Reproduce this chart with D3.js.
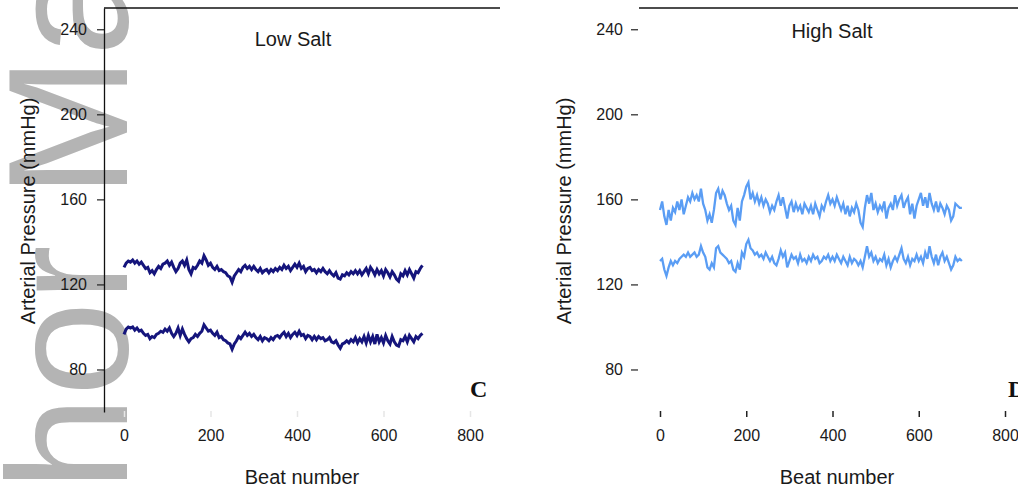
<!DOCTYPE html>
<html>
<head>
<meta charset="utf-8">
<script src="https://cdn.jsdelivr.net/npm/d3@7"></script>
<style>
  body { margin: 0; background: #fff; }
  svg { display: block; font-family: "Liberation Sans", Arial, sans-serif; }
</style>
</head>
<body>
<svg id="chart" width="1018" height="491"></svg>
<script>
// beat step between stored samples
const beatStep = 5;

// Low salt panel (C): systolic and diastolic traces, one value every 5 beats (0..690)
const lowSys = [
  128, 130, 131, 130.5, 131.5, 130, 131, 129.5, 130.5, 129,
  127.5, 128, 125.5, 126.5, 125, 127, 128.5, 127.5, 129.5, 130,
  131, 129, 130.5, 128, 126, 127.5, 130, 131, 129, 131.5,
  127, 125, 128, 127.5, 129, 131, 130, 133.5, 131.5, 129,
  130, 128, 127, 128.5, 126.5, 127, 126, 125.5, 124, 123.5,
  121, 124, 125.5, 127, 126, 128, 129, 127.5, 128.5, 127,
  128.5, 127, 126, 127.5, 125.5, 126.5, 127, 125.5, 127, 126,
  127.5, 126.5, 128, 127, 129, 127.5, 128.5, 126.5, 128, 129.5,
  128, 130, 127.5, 128.5, 126, 127.5, 128, 126.5, 127, 125.5,
  127, 126, 127.5, 126, 125, 126.5, 125, 124, 125.5, 123,
  122.5, 124.5, 124, 125.5, 124.5, 126, 125, 126.5, 125, 126.5,
  124.5, 126, 127.5, 125, 128, 126.5, 124.5, 127, 125, 126.5,
  124, 127, 125.5, 123.5, 126, 124.5, 122.5, 121.5, 125, 124,
  126.5, 124.5, 127, 125, 123, 126, 125.5, 127.5, 129
];
const lowDia = [
  96.5, 99, 100, 99.5, 100, 98.5, 99.5, 98, 98.5, 97,
  96, 96.5, 94.5, 95.5, 95, 96.5, 97, 98, 97.5, 99,
  98, 99.5, 97, 95.5, 97, 99.5, 96, 99, 96.5, 94.5,
  93, 94.5, 95, 96.5, 95.5, 97, 98, 101, 99.5, 98,
  98.5, 97, 96, 97.5, 95, 95.5, 94, 93.5, 92.5, 92,
  89.5, 92, 93.5, 95.5, 94.5, 96, 97.5, 96, 97, 95.5,
  96.5, 95, 94, 95.5, 93.5, 95, 94.5, 93.5, 95, 94,
  95.5, 96, 95, 96.5, 97.5, 95.5, 97, 95, 96.5, 97.5,
  96, 98, 96, 96.5, 94.5, 96, 95.5, 94, 95.5, 94,
  95.5, 94.5, 95, 93.5, 94, 95, 93, 92.5, 93.5, 91.5,
  90, 92, 92.5, 93.5, 92.5, 94, 93, 95, 92.5, 94.5,
  93, 95.5, 92.5, 96, 93, 95.5, 92, 96.5, 93, 95,
  92.5, 96, 93.5, 92, 95.5, 93, 91.5, 91, 94, 93.5,
  95.5, 93, 96, 94.5, 93, 95.5, 94.5, 96, 97
];

// High salt panel (D): one value every 5 beats (0..700)
const highSys = [
  155, 159, 152, 148, 155, 150, 156, 154, 159, 155,
  160, 153, 157, 161, 159, 163, 160, 162, 159, 165,
  158, 155, 150, 153, 149, 155, 163, 165, 160, 164,
  162, 158, 155, 157, 150, 148, 156, 150, 159, 162,
  166, 168, 160, 163, 159, 162, 158, 161, 157, 160,
  158, 154, 157, 155, 159, 162, 157, 161, 156, 151,
  157, 159, 154, 158, 155, 157, 153, 158, 156, 154,
  157, 153, 158, 155, 152, 157, 155, 159, 162, 158,
  160, 157, 161, 158, 155, 158, 153, 157, 152, 156,
  154, 158, 155, 149, 147, 156, 162, 158, 163, 155,
  158, 154, 157, 155, 159, 151, 156, 158, 155, 162,
  157, 160, 162, 156, 159, 161, 153, 158, 151, 157,
  160, 163, 157, 161, 156, 163, 158, 155, 159, 154,
  158, 156, 153, 157, 155, 150, 152, 158, 157, 156,
  156
];
const highDia = [
  131, 132, 127, 124, 128, 131, 129, 131, 130, 132,
  133, 134, 133, 135, 133, 134, 135, 133, 134, 138,
  135, 133, 128, 127, 130, 128, 137, 138, 135, 134,
  133, 132, 130, 131, 127, 126, 130, 127, 135, 133,
  139, 141, 137, 136, 134, 135, 133, 134, 132, 135,
  133, 131, 133, 130, 129, 132, 136, 133, 135, 128,
  131, 134, 132, 133, 130, 134, 131, 132, 130, 133,
  131, 134, 132, 133, 130, 131, 133, 132, 134, 131,
  133, 131, 134, 132, 130, 133, 131, 129, 133, 130,
  132, 131, 129, 131, 128, 133, 138, 133, 135, 131,
  133, 130, 132, 131, 134, 129, 132, 128, 131, 133,
  131, 134, 137, 132, 130, 133, 129, 132, 131, 134,
  131, 133, 130, 135, 132, 138, 133, 130, 134, 129,
  133, 135, 131, 133, 130, 127, 129, 133, 131, 132,
  131
];

const yTicks = [80, 120, 160, 200, 240];
const xTicks = [0, 200, 400, 600, 800];

const panels = [
  { title: "Low Salt", tag: "C", series: [lowSys, lowDia], color: "#15157c", width: 3,
    x0: 124, x1: 470, axisX: 104, axisLine: true, topLine: [104, 500],
    titleY: 46, titleX: 293, labelX: 35, xLabelX: 302, tagX: 470, xTickColor: "#e6e6e6" },
  { title: "High Salt", tag: "D", series: [highSys, highDia], color: "#5a9df4", width: 2.3,
    x0: 660, x1: 1005, axisX: 638, axisLine: false, topLine: [639, 1018],
    titleY: 38, titleX: 832, labelX: 571, xLabelX: 837, tagX: 1008, xTickColor: "#222" }
];

const svg = d3.select("#chart");

// watermark behind everything
svg.append("text")
  .attr("transform", "translate(127,746) rotate(-90)")
  .attr("font-size", 170)
  .attr("fill", "#b4b4b4")
  .text("Author Manuscript");

const y = d3.scaleLinear().domain([60, 250]).range([412, 8]);

panels.forEach(p => {
  const g = svg.append("g");
  const x = d3.scaleLinear().domain([0, 800]).range([p.x0, p.x1]);

  // top frame line
  g.append("line")
    .attr("x1", p.topLine[0]).attr("x2", p.topLine[1])
    .attr("y1", 8).attr("y2", 8)
    .attr("stroke", "#111").attr("stroke-width", 1.3);

  // y axis
  const yAxis = g.append("g")
    .attr("transform", `translate(${p.axisX},0)`)
    .call(d3.axisLeft(y).tickValues(yTicks).tickSize(7).tickSizeOuter(0).tickPadding(p.axisLine ? 10 : 8));
  yAxis.selectAll("text").attr("font-size", 16).attr("fill", "#1a1a1a").attr("font-family", "Liberation Sans, Arial, sans-serif");
  yAxis.selectAll(".tick line").attr("stroke", "#222").attr("stroke-width", 1.2);
  if (p.axisLine) yAxis.select(".domain").attr("stroke", "#111").attr("stroke-width", 1.3);
  else yAxis.select(".domain").remove();

  // x axis
  const xAxis = g.append("g")
    .attr("transform", "translate(0,411)")
    .call(d3.axisBottom(x).tickValues(xTicks).tickSize(6).tickPadding(13));
  xAxis.select(".domain").remove();
  xAxis.selectAll(".tick line").attr("stroke", p.xTickColor).attr("stroke-width", 1.5);
  xAxis.selectAll("text").attr("font-size", 16).attr("fill", "#1a1a1a").attr("font-family", "Liberation Sans, Arial, sans-serif");

  // traces
  const line = d3.line()
    .x((d, i) => x(i * beatStep))
    .y(d => y(d));
  p.series.forEach(s => {
    g.append("path")
      .datum(s)
      .attr("fill", "none")
      .attr("stroke", p.color)
      .attr("stroke-width", p.width)
      .attr("stroke-linejoin", "miter")
      .attr("d", line);
  });

  // texts
  g.append("text")
    .attr("x", p.titleX).attr("y", p.titleY)
    .attr("text-anchor", "middle")
    .attr("font-size", 20).attr("fill", "#1a1a1a")
    .text(p.title);

  g.append("text")
    .attr("transform", `translate(${p.labelX},211) rotate(-90)`)
    .attr("text-anchor", "middle")
    .attr("font-size", 20).attr("fill", "#1a1a1a")
    .text("Arterial Pressure (mmHg)");

  g.append("text")
    .attr("x", p.xLabelX).attr("y", 484)
    .attr("text-anchor", "middle")
    .attr("font-size", 20).attr("fill", "#1a1a1a")
    .text("Beat number");

  g.append("text")
    .attr("x", p.tagX).attr("y", 397)
    .attr("font-family", "Liberation Serif, 'Times New Roman', serif")
    .attr("font-weight", "bold")
    .attr("font-size", 24).attr("fill", "#111")
    .text(p.tag);
});
</script>
</body>
</html>
